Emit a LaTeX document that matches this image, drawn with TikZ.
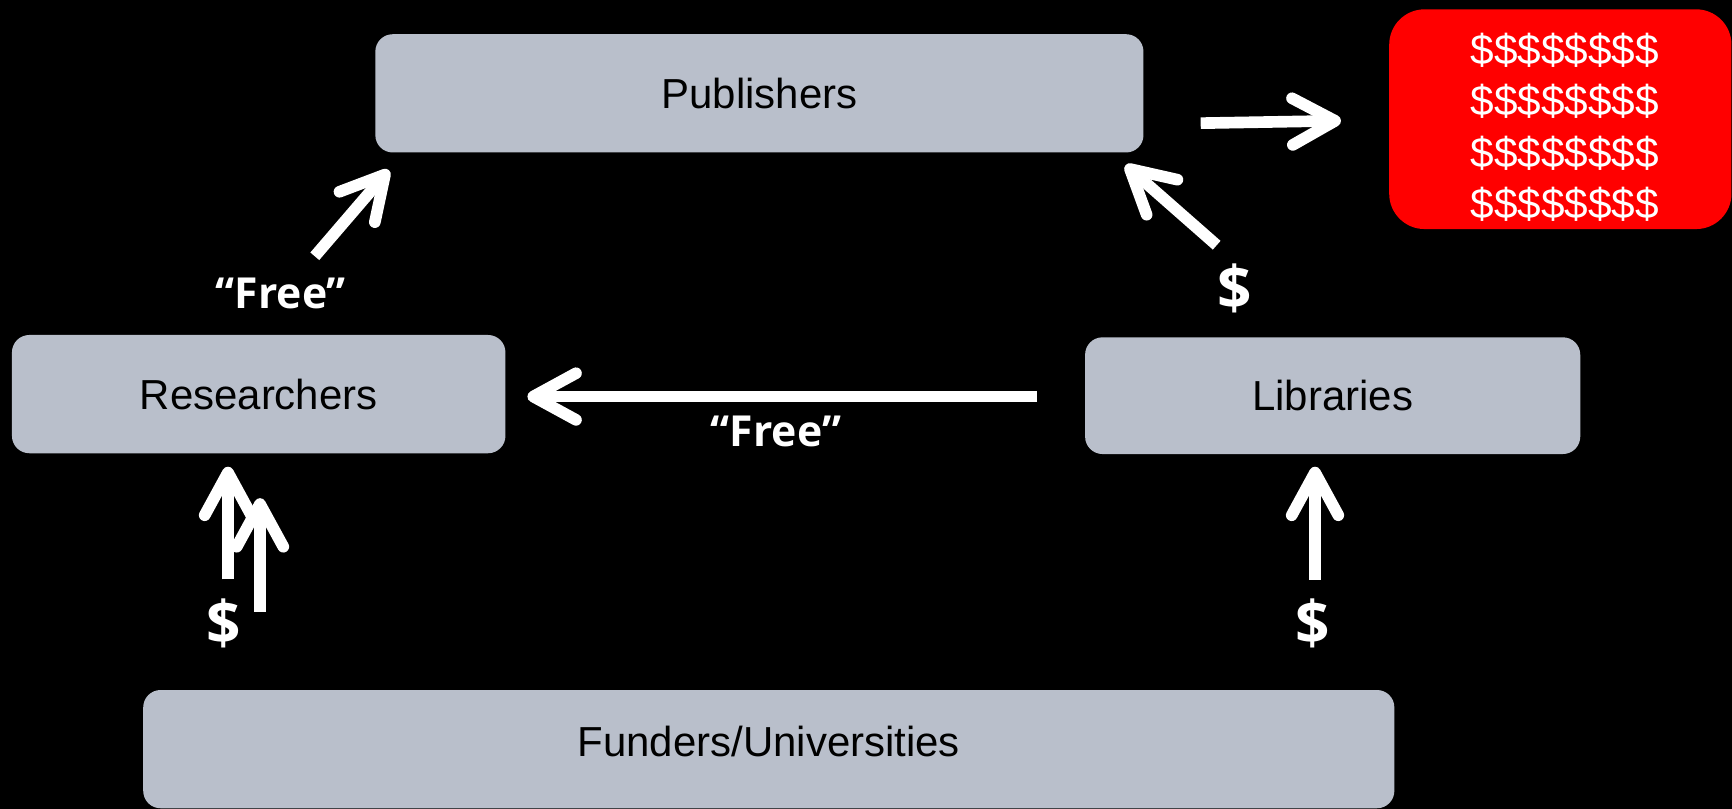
\documentclass[tikz,border=0pt]{standalone}
\usepackage{fontspec}
\setmainfont{Liberation Sans}
\newfontfamily\labelfont{Open Sans}
\usetikzlibrary{arrows.meta}
\definecolor{boxgray}{RGB}{185,191,203}
\definecolor{moneyred}{RGB}{255,0,0}
\begin{document}
\begin{tikzpicture}[x=0.01cm,y=-0.01cm,
  box/.style={fill=boxgray, draw=none, rounded corners=0.157cm, inner sep=0pt, font=\fontsize{10.8}{13}\selectfont, text=black},
  flow/.style={draw=white, line width=3pt, -{Straight Barb[length=11pt, width=12pt, round]}},
  lbl/.style={text=white, font=\labelfont\bfseries\fontsize{11}{13}\selectfont, inner sep=0pt},
  dollar/.style={text=white, font=\labelfont\bfseries\fontsize{15.5}{17}\selectfont, inner sep=0pt},
]
\fill[black] (0,0) rectangle (1568,732.4);
\useasboundingbox (0,0) rectangle (1568,732.4);

% boxes
\node[box, minimum width=6.95cm, minimum height=1.07cm] (pub) at (687.5,84.5) {Publishers};
\node[box, minimum width=4.465cm, minimum height=1.07cm] (res) at (234.2,356.8) {Researchers};
\node[box, minimum width=4.48cm, minimum height=1.056cm] (lib) at (1206.5,358.2) {Libraries};
\node[box, minimum width=11.32cm, minimum height=1.07cm] (fund) at (696,678.2) {};
\node[text=black, inner sep=0pt, font=\fontsize{10.8}{13}\selectfont] (fundlbl) at (696,671.5) {Funders/Universities};
\node[fill=moneyred, draw=none, rounded corners=0.32cm, inner sep=0pt, minimum width=3.097cm, minimum height=1.988cm] (money) at (1412.6,107.9) {};
\node[text=white, align=center, inner sep=0pt, font=\fontsize{10.9}{13.2}\selectfont] (moneytxt) at (1416.5,115.2)
  {\$\$\$\$\$\$\$\$\\\$\$\$\$\$\$\$\$\\\$\$\$\$\$\$\$\$\\\$\$\$\$\$\$\$\$};

% arrow end points
\coordinate (a1s) at (1087,111.5); \coordinate (a1e) at (1214,109.3);
\coordinate (a2s) at (939,359);    \coordinate (a2e) at (477.5,359);
\coordinate (a3s) at (285,232);    \coordinate (a3e) at (352,154);
\coordinate (a4s) at (1101.5,222); \coordinate (a4e) at (1019,149.5);
\coordinate (a5s) at (206.4,524.5); \coordinate (a5e) at (206.4,422.5);
\coordinate (a6s) at (235.4,553.8); \coordinate (a6e) at (235.4,451);
\coordinate (a7s) at (1190.5,525); \coordinate (a7e) at (1190.5,422.5);

\draw[flow] (a1s) -- (a1e);
\draw[flow] (a2s) -- (a2e);
\draw[flow] (a3s) -- (a3e);
\draw[flow] (a4s) -- (a4e);
\draw[flow] (a5s) -- (a5e);
\draw[flow] (a6s) -- (a6e);
\draw[flow] (a7s) -- (a7e);

% labels
\node[lbl] (free1) at (254.3,265.5) {“Free”};
\node[lbl] (free2) at (702.5,391) {“Free”};
\node[dollar] (d1) at (1117.5,261) {\$};
\node[dollar] (d2) at (202.8,564.3) {\$};
\node[dollar] (d3) at (1188,564) {\$};
\end{tikzpicture}
\end{document}
